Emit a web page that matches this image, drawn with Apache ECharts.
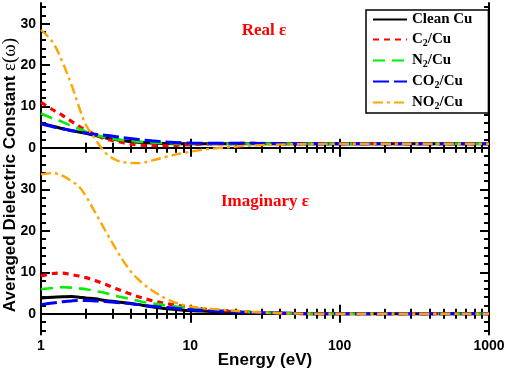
<!DOCTYPE html>
<html>
<head>
<meta charset="utf-8">
<script src="https://cdn.jsdelivr.net/npm/echarts@6/dist/echarts.min.js"></script>
<style>
  html, body { margin: 0; padding: 0; background: #fff; }
  #chart { width: 505px; height: 372px; }
</style>
</head>
<body>
<div id="chart"></div>
<script>
// photon energy (eV), shared by every curve
var energy = [1, 1.2, 1.4, 1.6, 1.8, 2, 2.3, 2.7, 3.2, 3.8, 4.5, 5.5, 7, 9, 12, 16, 22, 30, 45, 70, 100, 200, 400, 1000];

// real part
var realClean = [6.0, 5.2, 4.6, 4.1, 3.8, 3.5, 3.0, 2.4, 1.95, 1.6, 1.35, 1.15, 1.05, 1.0, 1.0, 1.0, 1.0, 1.0, 1.0, 1.0, 1.0, 1.0, 1.0, 1.0];
var realC2 = [11.0, 9.2, 7.8, 6.4, 5.2, 4.3, 3.2, 2.1, 1.6, 1.0, 0.7, 0.5, 0.5, 0.7, 0.9, 1.0, 1.05, 1.05, 1.0, 1.0, 1.0, 1.0, 1.0, 1.0];
var realN2 = [8.3, 7.1, 6.2, 5.3, 4.6, 3.9, 3.2, 2.45, 2.0, 1.75, 1.5, 1.3, 1.1, 1.05, 1.0, 1.0, 1.0, 1.0, 1.0, 1.0, 1.0, 1.0, 1.0, 1.0];
var realCO2 = [5.8, 5.1, 4.6, 4.2, 3.9, 3.6, 3.3, 3.05, 2.7, 2.3, 2.0, 1.7, 1.4, 1.2, 1.1, 1.1, 1.1, 1.05, 1.0, 1.0, 1.0, 1.0, 1.0, 1.0];
var realNO2 = [28.5, 25.5, 20.5, 15.2, 9.8, 5.5, 2.2, -1.2, -3.0, -3.6, -3.7, -3.1, -2.1, -1.25, -0.5, 0.0, 0.4, 0.65, 0.85, 0.95, 1.0, 1.0, 1.0, 1.0];

// imaginary part
var imagClean = [3.8, 4.0, 4.1, 4.15, 4.0, 3.8, 3.6, 3.2, 2.9, 2.6, 2.2, 1.7, 1.2, 0.85, 0.65, 0.5, 0.35, 0.2, 0.1, 0.0, 0.0, 0.0, 0.0, 0.0];
var imagC2 = [9.1, 9.7, 9.8, 9.4, 9.1, 8.7, 8.0, 7.1, 6.0, 5.0, 4.1, 3.2, 2.4, 1.8, 1.2, 0.8, 0.5, 0.3, 0.1, 0.0, 0.0, 0.0, 0.0, 0.0];
var imagN2 = [5.9, 6.2, 6.4, 6.3, 6.1, 5.9, 5.5, 5.0, 4.3, 3.7, 3.1, 2.5, 2.0, 1.5, 1.1, 0.8, 0.5, 0.3, 0.1, 0.0, 0.0, 0.0, 0.0, 0.0];
var imagCO2 = [2.2, 2.6, 2.9, 3.1, 3.2, 3.2, 3.1, 2.95, 2.7, 2.5, 2.2, 1.8, 1.5, 1.1, 0.8, 0.6, 0.4, 0.25, 0.1, 0.0, 0.0, 0.0, 0.0, 0.0];
var imagNO2 = [33.6, 33.9, 33.2, 32.0, 30.6, 28.3, 24.5, 20.0, 15.4, 11.2, 8.2, 5.7, 3.5, 2.1, 1.4, 1.0, 0.6, 0.3, 0.1, 0.0, 0.0, 0.0, 0.0, 0.0];

var seriesNames = ['Clean Cu', 'C2/Cu', 'N2/Cu', 'CO2/Cu', 'NO2/Cu'];

// ticks and labels
var xMajorTicks = [1, 10, 100, 1000];
var xMinorTicks = [2, 3, 4, 5, 6, 7, 8, 9, 20, 30, 40, 50, 60, 70, 80, 90, 200, 300, 400, 500, 600, 700, 800, 900];
var xTickLabels = ['1', '10', '100', '1000'];
var yMajorTicks = [0, 10, 20, 30];
var yMinorTicks = [-4, -2, 2, 4, 6, 8, 12, 14, 16, 18, 22, 24, 26, 28, 32, 34];
var yTickLabels = ['0', '10', '20', '30'];

var SANS = '"Liberation Sans", Arial, sans-serif';
var SERIF = '"Liberation Serif", "Times New Roman", serif';

// 线型：黑实线，红点线，绿虚线，蓝长虚线，橙点划线
var lineStyles = [
    {color: '#000000', width: 3, type: 'solid'},
    {color: '#ff0000', width: 3.2, type: [6, 5]},
    {color: '#00ee00', width: 2.6, type: [12, 7]},
    {color: '#0000ff', width: 3, type: [16, 5]},
    {color: '#ffa500', width: 2.4, type: [10, 4, 3, 4]}
];

function xAxes(grid, withLabels) {
    var base = {
        type: 'log', logBase: 10, gridIndex: grid, min: 1, max: 1000,
        splitLine: {show: false}, minorTick: {show: false}
    };
    var major = function (pos, labels) {
        return Object.assign({}, base, {
            position: pos,
            axisLine: {show: true, lineStyle: {color: '#000', width: 2}},
            axisTick: {show: true, inside: true, length: 9, customValues: xMajorTicks, lineStyle: {color: '#000', width: 2}},
            axisLabel: {
                show: labels, customValues: xMajorTicks, margin: 5,
                color: '#000', fontSize: 14, fontWeight: 'bold', fontFamily: SANS,
                formatter: function (v) {
                    var i = xMajorTicks.indexOf(Math.round(v));
                    return i >= 0 ? xTickLabels[i] : '';
                }
            }
        });
    };
    var minor = function (pos) {
        return Object.assign({}, base, {
            position: pos,
            axisLine: {show: false},
            axisTick: {show: true, inside: true, length: 5, customValues: xMinorTicks, lineStyle: {color: '#000', width: 2}},
            axisLabel: {show: false}
        });
    };
    return [major('bottom', withLabels), minor('bottom'), major('top', false), minor('top')];
}

function yAxes(grid) {
    var base = {type: 'value', gridIndex: grid, min: -5, max: 35, splitLine: {show: false}};
    var major = function (pos, labels) {
        return Object.assign({}, base, {
            position: pos,
            axisLine: {show: true, lineStyle: {color: '#000', width: 2}},
            axisTick: {show: true, inside: true, length: 9, customValues: yMajorTicks, lineStyle: {color: '#000', width: 2}},
            axisLabel: {
                show: labels, customValues: yMajorTicks, margin: 5,
                color: '#000', fontSize: 14, fontWeight: 'bold', fontFamily: SANS,
                formatter: function (v) {
                    var i = yMajorTicks.indexOf(Math.round(v));
                    return i >= 0 ? yTickLabels[i] : '';
                }
            }
        });
    };
    var minor = function (pos) {
        return Object.assign({}, base, {
            position: pos,
            axisLine: {show: false},
            axisTick: {show: true, inside: true, length: 5, customValues: yMinorTicks, lineStyle: {color: '#000', width: 2}},
            axisLabel: {show: false}
        });
    };
    return [major('left', true), minor('left'), major('right', false), minor('right')];
}

function makeSeries(grid, valueLists) {
    var out = [];
    for (var k = 0; k < seriesNames.length; k++) {
        var vals = valueLists[k];
        out.push({
            name: seriesNames[k],
            type: 'line',
            xAxisIndex: grid * 4,
            yAxisIndex: grid * 4,
            data: energy.map(function (e, i) { return [e, vals[i]]; }),
            smooth: 0.35,
            symbol: 'none',
            showSymbol: false,
            lineStyle: lineStyles[k],
            animation: false
        });
    }
    return out;
}

var option = {
    backgroundColor: '#fff',
    animation: false,
    grid: [
        {left: 41, top: 3, width: 448, height: 165.5, containLabel: false, outerBoundsMode: 'none'},
        {left: 41, top: 168.5, width: 448, height: 166, containLabel: false, outerBoundsMode: 'none'}
    ],
    xAxis: xAxes(0, false).concat(xAxes(1, true)),
    yAxis: yAxes(0).concat(yAxes(1)),
    legend: {
        data: seriesNames,
        orient: 'vertical',
        left: 366,
        top: 10,
        padding: [2, 16, 2, 6],
        itemGap: 4,
        itemWidth: 34,
        itemHeight: 14,
        backgroundColor: '#fff',
        borderColor: '#000',
        borderWidth: 1.5,
        borderRadius: 0,
        itemStyle: {opacity: 0},
        selectedMode: false,
        formatter: function (name) {
            return name.replace('2', '{s|2}');
        },
        textStyle: {
            color: '#000', fontSize: 15, fontWeight: 'bold', fontFamily: SERIF, lineHeight: 14,
            rich: {
                s: {fontSize: 10, fontWeight: 'bold', fontFamily: SERIF, color: '#000', lineHeight: 14, padding: [7, 0, 0, 0]}
            }
        }
    },
    graphic: [
        {
            type: 'text', x: 264, y: 31, z: 10,
            style: {text: 'Real ε', fill: '#ff0000', font: 'bold 17px ' + SERIF, textAlign: 'center', textVerticalAlign: 'middle'}
        },
        {
            type: 'text', x: 265, y: 202, z: 10,
            style: {text: 'Imaginary ε', fill: '#ff0000', font: 'bold 17px ' + SERIF, textAlign: 'center', textVerticalAlign: 'middle'}
        },
        {
            type: 'text', x: 265, y: 360, z: 10,
            style: {text: 'Energy (eV)', fill: '#000', font: 'bold 17px ' + SANS, textAlign: 'center', textVerticalAlign: 'middle'}
        },
        {
            type: 'text', x: 10, y: 175, rotation: Math.PI / 2, z: 10,
            style: {
                text: '{a|Averaged Dielectric Constant }{b|ε(ω)}',
                textAlign: 'center', textVerticalAlign: 'middle',
                rich: {
                    a: {fill: '#000', fontSize: 17, fontWeight: 'bold', fontFamily: SANS},
                    b: {fill: '#000', fontSize: 19, fontFamily: SERIF}
                }
            }
        }
    ],
    series: makeSeries(0, [realClean, realC2, realN2, realCO2, realNO2])
        .concat(makeSeries(1, [imagClean, imagC2, imagN2, imagCO2, imagNO2]))
};

var myChart = echarts.init(document.getElementById('chart'), null, {renderer: 'canvas'});
myChart.setOption(option);
</script>
</body>
</html>
